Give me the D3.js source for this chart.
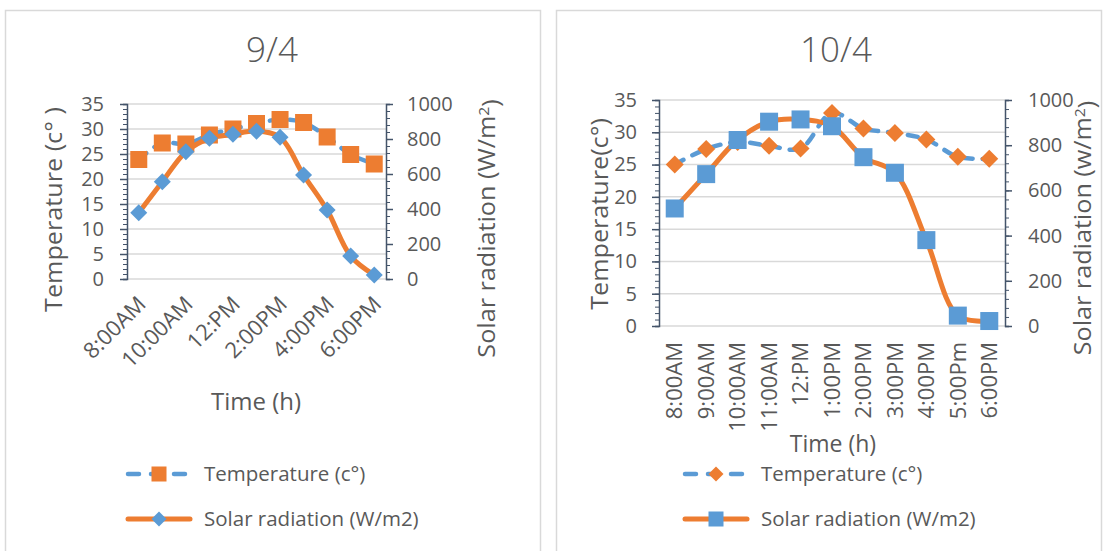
<!DOCTYPE html>
<html><head><meta charset="utf-8">
<script src="https://cdn.jsdelivr.net/npm/d3@7"></script>
<style>
body{margin:0;background:#fff;}
svg text{font-family:"Open Sans","Noto Sans",sans-serif;fill:#595959;}
</style></head>
<body><svg id="c" width="1103" height="551"></svg>
<script>
// ---- data ----
const times1 = ["8:00AM","9:00AM","10:00AM","11:00AM","12:PM","1:00PM","2:00PM","3:00PM","4:00PM","5:00PM","6:00PM"];
const shownTicks1 = ["8:00AM","10:00AM","12:PM","2:00PM","4:00PM","6:00PM"];
const temp1 = [23.9, 27.2, 27.0, 28.8, 30.0, 31.1, 31.9, 31.3, 28.4, 24.9, 23.0];
const solar1 = [379, 556, 727, 804, 827, 845, 810, 594, 394, 131, 23];

const times2 = ["8:00AM","9:00AM","10:00AM","11:00AM","12:PM","1:00PM","2:00PM","3:00PM","4:00PM","5:00Pm","6:00PM"];
const temp2 = [25.0, 27.4, 28.5, 27.9, 27.5, 33.0, 30.6, 29.9, 28.9, 26.2, 25.9];
const solar2 = [520, 672, 823, 904, 914, 884, 747, 678, 380, 46, 22];

const tempTicks = [0,5,10,15,20,25,30,35];
const solarTicks = [0,200,400,600,800,1000];

const ORANGE = "#ed7d31", BLUE = "#5b9bd5", GRID = "#d9d9d9", AXIS = "#44546a";

const svg = d3.select("#c");

// panel frames
svg.append("rect").attr("x",5.5).attr("y",10.5).attr("width",535).attr("height",560)
  .attr("fill","none").attr("stroke",GRID).attr("stroke-width",1.5);
svg.append("rect").attr("x",556.5).attr("y",10.5).attr("width",545).attr("height",560)
  .attr("fill","none").attr("stroke",GRID).attr("stroke-width",1.5);

function chart(o){
  const g = svg.append("g");
  const x = d3.scaleBand().domain(o.times).range([o.left,o.right]);
  const yT = d3.scaleLinear().domain([0,35]).range([o.bottom,o.top]);
  const yS = d3.scaleLinear().domain([0,1000]).range([o.bottom,o.top]);
  const cx = d => x(d) + x.bandwidth()/2;

  // gridlines
  g.selectAll(".grid").data(tempTicks).join("line")
    .attr("x1",o.left).attr("x2",o.right).attr("y1",d=>yT(d)).attr("y2",d=>yT(d))
    .attr("stroke",GRID).attr("stroke-width",1.5);

  // left axis
  const la = g.append("g").attr("transform",`translate(${o.left},0)`)
    .call(d3.axisLeft(yT).tickValues(d3.range(0,36,1)).tickSize(4).tickFormat(""));
  la.select(".domain").attr("stroke",AXIS).attr("stroke-width",1.5);
  la.selectAll(".tick line").attr("stroke",AXIS);
  const la2 = g.append("g").attr("transform",`translate(${o.left},0)`)
    .call(d3.axisLeft(yT).tickValues(tempTicks).tickSize(7).tickPadding(o.lPad));
  la2.select(".domain").remove();
  la2.selectAll(".tick line").attr("stroke",AXIS).attr("stroke-width",1.5);
  la2.selectAll("text").attr("font-size",20).attr("fill","#595959").style("font-family",null);

  // right axis
  const ra = g.append("g").attr("transform",`translate(${o.right},0)`)
    .call(d3.axisRight(yS).tickValues(d3.range(0,1001,40)).tickSize(4).tickFormat(""));
  ra.select(".domain").attr("stroke",AXIS).attr("stroke-width",1.5);
  ra.selectAll(".tick line").attr("stroke",AXIS);
  const ra2 = g.append("g").attr("transform",`translate(${o.right},0)`)
    .call(d3.axisRight(yS).tickValues(solarTicks).tickSize(7).tickPadding(o.rPad).tickFormat(d3.format("d")));
  ra2.select(".domain").remove();
  ra2.selectAll(".tick line").attr("stroke",AXIS).attr("stroke-width",1.5);
  ra2.selectAll("text").attr("font-size",20).attr("fill","#595959").style("font-family",null);

  // x labels
  const labs = o.shown || o.times;
  g.selectAll(".xl").data(labs).join("text")
    .attr("transform",d=>`translate(${cx(d)+o.xlDx},${o.xlY}) rotate(${o.rot})`)
    .attr("text-anchor","end").attr("dy","0.35em").attr("font-size",o.xlFs).text(d=>d);

  // titles
  g.append("text").attr("x",o.titleX).attr("y",62).attr("text-anchor","middle")
    .attr("font-size",35).attr("font-weight",300).text(o.title);
  g.append("text").attr("x",o.timeX).attr("y",o.timeY).attr("text-anchor","middle")
    .attr("font-size",o.timeFs).text("Time (h)");
  g.append("text").attr("transform",`translate(${o.ltX},${(o.top+o.bottom)/2+o.ltDy}) rotate(-90) scale(1.05,1)`)
    .attr("text-anchor","middle").attr("dy","0.35em").attr("font-size",24).text(o.leftTitle);
  const rt = g.append("text").attr("transform",`translate(${o.rtX},${(o.top+o.bottom)/2+o.rtDy}) rotate(-90) scale(1.05,1)`)
    .attr("text-anchor","middle").attr("dy","0.35em").attr("font-size",24);
  rt.append("tspan").text(o.rightTitle);
  rt.append("tspan").attr("dy","-0.4em").attr("font-size",15).text("2");
  rt.append("tspan").attr("dy","0.4em").text(")");

  const lineT = d3.line().x((d,i)=>cx(o.times[i])).y(d=>yT(d)).curve(d3.curveCatmullRom);
  const lineS = d3.line().x((d,i)=>cx(o.times[i])).y(d=>yS(d)).curve(d3.curveCatmullRom);

  // temperature series: blue dashed line
  g.append("path").datum(o.temp).attr("d",lineT).attr("fill","none")
    .attr("stroke",BLUE).attr("stroke-width",4.5).attr("stroke-dasharray","10,10")
    .attr("stroke-linecap","round");
  drawMarkers(g, o.temp.map((v,i)=>[cx(o.times[i]), yT(v)]), o.tempMarker, ORANGE, o.msz);

  // solar series: orange solid
  g.append("path").datum(o.solar).attr("d",lineS).attr("fill","none")
    .attr("stroke",ORANGE).attr("stroke-width",5).attr("stroke-linejoin","round");
  drawMarkers(g, o.solar.map((v,i)=>[cx(o.times[i]), yS(v)]), o.solarMarker, BLUE, o.msz);

  // legend
  const leg = [
    {label:"Temperature (c°)", line:BLUE, dash:true, marker:o.tempMarker, mc:ORANGE, y:474},
    {label:"Solar radiation (W/m2)", line:ORANGE, dash:false, marker:o.solarMarker, mc:BLUE, y:519}
  ];
  leg.forEach(l=>{
    const lx1 = o.legX, lx2 = o.legX+62;
    const p = g.append("line").attr("x1",lx1).attr("x2",lx2).attr("y1",l.y).attr("y2",l.y)
      .attr("stroke",l.line).attr("stroke-width",l.dash?4.5:5).attr("stroke-linecap","round");
    if(l.dash) p.attr("stroke-dasharray","11,12");
    drawMarkers(g, [[(lx1+lx2)/2, l.y]], l.marker, l.mc, 15);
    g.append("text").attr("x",o.legX+76).attr("y",l.y).attr("dy","0.35em")
      .attr("font-size",20.5).text(l.label);
  });
}

function drawMarkers(g, pts, type, color, size){
  if(type==="square"){
    g.selectAll(null).data(pts).join("rect")
      .attr("x",d=>d[0]-size/2).attr("y",d=>d[1]-size/2)
      .attr("width",size).attr("height",size).attr("fill",color);
  } else {
    g.selectAll(null).data(pts).join("path")
      .attr("transform",d=>`translate(${d[0]},${d[1]}) rotate(45)`)
      .attr("d", d3.symbol().type(d3.symbolSquare).size(size*size*0.5)).attr("fill",color);
  }
}

chart({
  times:times1, shown:shownTicks1, temp:temp1, solar:solar1,
  left:127, right:386, top:104, bottom:279,
  lPad:16, rPad:14, xlY:300, xlDx:3, rot:-45, xlFs:22,
  title:"9/4", titleX:272, timeX:256, timeY:410, timeFs:24,
  leftTitle:"Temperature (c° )", ltX:54, ltDy:18,
  rightTitle:"Solar radiation (W/m", rtX:487, rtDy:37,
  tempMarker:"square", solarMarker:"diamond", msz:17, legX:128
});
chart({
  times:times2, temp:temp2, solar:solar2,
  left:659, right:1005, top:100, bottom:326,
  lPad:15, rPad:16, xlY:342, xlDx:0, rot:-90, xlFs:22,
  title:"10/4", titleX:836, timeX:833, timeY:452, timeFs:23,
  leftTitle:"Temperature(c°)", ltX:600, ltDy:1,
  rightTitle:"Solar radiation (w/m", rtX:1083, rtDy:15,
  tempMarker:"diamond", solarMarker:"square", msz:18, legX:685
});
</script></body></html>
